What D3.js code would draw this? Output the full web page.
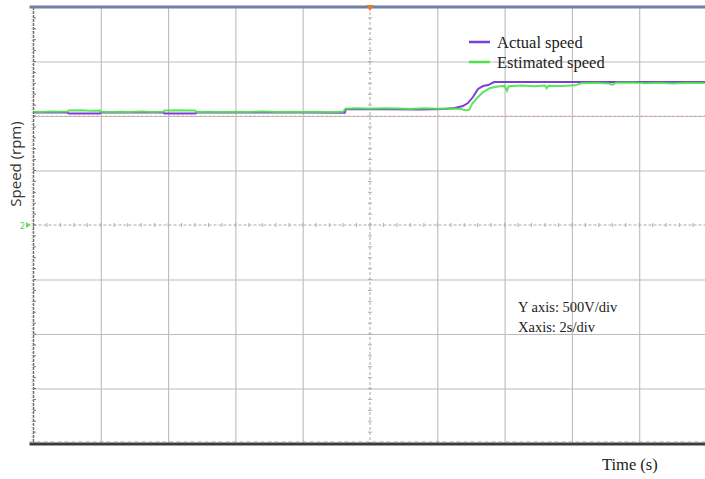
<!DOCTYPE html>
<html>
<head>
<meta charset="utf-8">
<script src="https://cdn.jsdelivr.net/npm/d3@7"></script>
<style>
  html, body { margin: 0; padding: 0; background: #fff; }
  svg { display: block; }
</style>
</head>
<body>
<svg id="chart" width="705" height="479"></svg>
<script>
// Time axis: 2 s per division, 10 divisions
const timeTicks = [0, 2, 4, 6, 8, 10, 12, 14, 16, 18, 20];
// Speed axis: 500 per division, 8 divisions, zero on the centre line
const speedTicks = [-2000, -1500, -1000, -500, 0, 500, 1000, 1500, 2000];
const referenceSpeed = 1000;

// Actual speed trace [time (s), speed (rpm)]
const actualTime  = [0, 1.0, 1.05, 1.97, 2.0, 3.85, 3.9, 4.8, 4.85, 6.5, 8.0, 9.25, 9.28, 10.5, 11.5, 12.2, 12.52, 12.76, 12.91, 13.06, 13.21, 13.36, 13.51, 13.69, 15.0, 17.0, 20.0];
const actualSpeed = [1032, 1032, 1023, 1023, 1032, 1032, 1023, 1023, 1032, 1031, 1032, 1030, 1061, 1062, 1060, 1064, 1073, 1091, 1119, 1174, 1248, 1275, 1284, 1312, 1313, 1311, 1312];

// Estimated speed trace [time (s), speed (rpm)]
const estimatedTime  = [0, 0.25, 0.5, 0.75, 1.0, 1.05, 1.4, 1.7, 1.97, 2.0, 2.3, 2.6, 2.9, 3.2, 3.5, 3.85, 3.9, 4.3, 4.8, 4.85, 5.2, 5.6, 6.0, 6.4, 6.8, 7.2, 7.6, 8.0, 8.4, 8.8, 9.2, 9.27, 9.6, 10.0, 10.4, 10.8, 11.2, 11.6, 12.0, 12.4, 12.7, 12.85, 12.95, 13.03, 13.18, 13.36, 13.57, 13.8, 14.0, 14.07, 14.12, 14.5, 14.9, 15.2, 15.25, 15.3, 15.7, 16.1, 16.3, 16.7, 17.1, 17.2, 17.3, 17.8, 18.2, 18.6, 19.0, 19.4, 19.8, 20.0];
const estimatedSpeed = [1040, 1036, 1042, 1038, 1041, 1050, 1052, 1049, 1051, 1038, 1035, 1040, 1036, 1041, 1037, 1039, 1050, 1052, 1050, 1037, 1040, 1035, 1039, 1036, 1041, 1037, 1040, 1036, 1039, 1035, 1038, 1066, 1070, 1066, 1071, 1068, 1065, 1070, 1067, 1069, 1064, 1052, 1058, 1110, 1165, 1220, 1257, 1271, 1276, 1232, 1274, 1279, 1272, 1280, 1256, 1278, 1275, 1281, 1303, 1306, 1298, 1285, 1304, 1308, 1300, 1306, 1298, 1305, 1302, 1304];

const legendLabels = ["Actual speed", "Estimated speed"];
const seriesColors = ["#7a3fd6", "#4ee24e"];

const svg = d3.select("#chart");
const plot = { left: 33.5, right: 706.5, top: 7, bottom: 443 };

const x = d3.scaleLinear().domain([0, 20]).range([plot.left, plot.right]);
const y = d3.scaleLinear().domain([-2000, 2000]).range([plot.bottom, plot.top]);

// Grid: vertical division lines
svg.append("g")
  .attr("transform", `translate(0,${plot.top})`)
  .call(d3.axisBottom(x).tickValues(timeTicks.filter(t => t !== 0 && t !== 10))
        .tickSize(plot.bottom - plot.top).tickFormat(""))
  .call(g => g.select(".domain").remove())
  .call(g => g.selectAll("line").attr("stroke", "#bcbcbc").attr("stroke-width", 1.1));

// Grid: horizontal division lines
svg.append("g")
  .attr("transform", `translate(${plot.left},0)`)
  .call(d3.axisRight(y).tickValues(speedTicks.filter(v => v !== 0 && v !== -2000 && v !== 2000))
        .tickSize(plot.right - plot.left).tickFormat(""))
  .call(g => g.select(".domain").remove())
  .call(g => g.selectAll("line").attr("stroke", "#bcbcbc").attr("stroke-width", 1.1));

// Centre cross lines with minor ticks
const cx = x(10), cy = y(0);
svg.append("line").attr("x1", plot.left).attr("x2", plot.right).attr("y1", cy).attr("y2", cy)
  .attr("stroke", "#a9a9a9").attr("stroke-dasharray", "3,2");
svg.append("line").attr("x1", cx).attr("x2", cx).attr("y1", plot.top).attr("y2", plot.bottom)
  .attr("stroke", "#a9a9a9").attr("stroke-dasharray", "3,2");

const minorT = d3.range(0, 20.001, 0.4);
const minorV = d3.range(-2000, 2000.001, 100);
svg.append("g").selectAll("line").data(minorT).join("line")
  .attr("x1", d => x(d)).attr("x2", d => x(d)).attr("y1", cy - 2).attr("y2", cy + 2)
  .attr("stroke", "#b0b0b0");
svg.append("g").selectAll("line").data(minorV).join("line")
  .attr("x1", cx - 2).attr("x2", cx + 2).attr("y1", d => y(d)).attr("y2", d => y(d))
  .attr("stroke", "#b0b0b0");

// Reference level
svg.append("line").attr("x1", plot.left).attr("x2", plot.right)
  .attr("y1", y(referenceSpeed)).attr("y2", y(referenceSpeed))
  .attr("stroke", "#e9a27a").attr("stroke-width", 1.2).attr("stroke-dasharray", "1.5,3");

// Left edge: dotted orange + dark dashed axis with minor ticks
svg.append("line").attr("x1", plot.left - 1.5).attr("x2", plot.left - 1.5)
  .attr("y1", plot.top).attr("y2", plot.bottom)
  .attr("stroke", "#e0b080").attr("stroke-dasharray", "1,2");
svg.append("line").attr("x1", plot.left).attr("x2", plot.left)
  .attr("y1", plot.top).attr("y2", plot.bottom)
  .attr("stroke", "#6a6a6a").attr("stroke-width", 1.4).attr("stroke-dasharray", "3,1");
svg.append("g").selectAll("line").data(minorV).join("line")
  .attr("x1", plot.left).attr("x2", plot.left + 2.5).attr("y1", d => y(d)).attr("y2", d => y(d))
  .attr("stroke", "#777");

// Bottom edge
svg.append("line").attr("x1", plot.left - 4).attr("x2", 705)
  .attr("y1", plot.bottom + 1).attr("y2", plot.bottom + 1)
  .attr("stroke", "#3c3c3c").attr("stroke-width", 3);
svg.append("line").attr("x1", plot.left - 4).attr("x2", 705)
  .attr("y1", plot.bottom - 1).attr("y2", plot.bottom - 1)
  .attr("stroke", "#9a9a9a").attr("stroke-width", 1).attr("stroke-dasharray", "4,3");

// Top edge
svg.append("line").attr("x1", plot.left - 4).attr("x2", 705)
  .attr("y1", plot.top).attr("y2", plot.top)
  .attr("stroke", "#6f7fa6").attr("stroke-width", 3);
svg.append("path")
  .attr("d", `M${cx - 4},${plot.top - 2} L${cx + 4},${plot.top - 2} L${cx},${plot.top + 4} Z`)
  .attr("fill", "#e07a3a");

// Channel marker on the zero line
svg.append("text").attr("x", 20).attr("y", cy + 3.5)
  .attr("font-family", "DejaVu Sans").attr("font-size", 8).attr("fill", "#55cc44").text("2");
svg.append("path")
  .attr("d", `M${26},${cy - 3} L${31},${cy} L${26},${cy + 3} Z`).attr("fill", "#66dd55");

// Traces
const line = d3.line().x(d => x(d[0])).y(d => y(d[1]));
const actual = actualTime.map((t, i) => [t, actualSpeed[i]]);
const estimated = estimatedTime.map((t, i) => [t, estimatedSpeed[i]]);

svg.append("path").datum(actual).attr("d", line)
  .attr("fill", "none").attr("stroke", seriesColors[0]).attr("stroke-width", 2);
svg.append("path").datum(estimated).attr("d", line)
  .attr("fill", "none").attr("stroke", seriesColors[1]).attr("stroke-width", 2).attr("opacity", 0.9);

// Legend
const legend = svg.append("g").attr("transform", "translate(469,42)");
legendLabels.forEach((lab, i) => {
  const g = legend.append("g").attr("transform", `translate(0,${i * 20})`);
  g.append("line").attr("x1", 0).attr("x2", 21).attr("y1", 0).attr("y2", 0)
    .attr("stroke", seriesColors[i]).attr("stroke-width", 2.5);
  g.append("text").attr("x", 28).attr("y", 5.5)
    .attr("font-family", "Liberation Serif").attr("font-size", 16.5).attr("fill", "#222").text(lab);
});

// Scale notes
svg.append("text").attr("x", 518).attr("y", 312)
  .attr("font-family", "Liberation Serif").attr("font-size", 14.5).attr("fill", "#222").text("Y axis: 500V/div");
svg.append("text").attr("x", 518).attr("y", 332)
  .attr("font-family", "Liberation Serif").attr("font-size", 14.5).attr("fill", "#222").text("Xaxis: 2s/div");

// Axis titles
svg.append("text").attr("x", 602).attr("y", 470)
  .attr("font-family", "Liberation Serif").attr("font-size", 16.5).attr("fill", "#222").text("Time (s)");
svg.append("text").attr("transform", "translate(21,164) rotate(-90)")
  .attr("text-anchor", "middle")
  .attr("font-family", "Open Sans").attr("font-size", 15).attr("fill", "#333").text("Speed (rpm)");
</script>
</body>
</html>
